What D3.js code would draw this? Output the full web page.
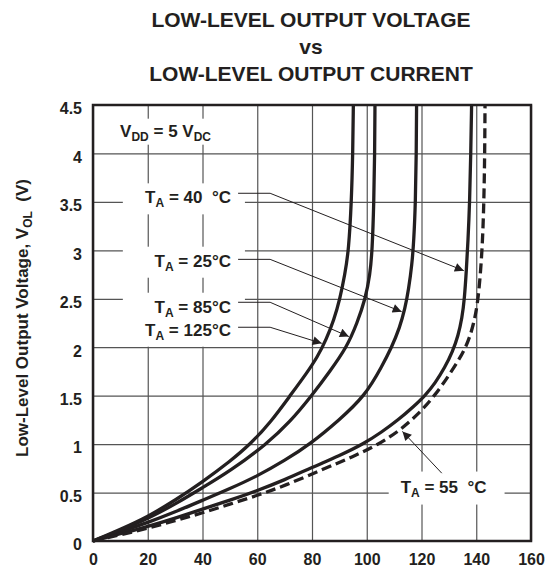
<!DOCTYPE html>
<html>
<head>
<meta charset="utf-8">
<script src="https://cdn.jsdelivr.net/npm/d3@7"></script>
<style>
  body { margin: 0; background: #fff; }
  text { font-family: "Liberation Sans", Arial, Helvetica, sans-serif; font-weight: bold; fill: #231f20; }
</style>
</head>
<body>
<div id="chart"></div>
<script>
// axis ticks
const xTicks = [0, 20, 40, 60, 80, 100, 120, 140, 160];
const yTicks = [0, 0.5, 1, 1.5, 2, 2.5, 3, 3.5, 4, 4.5];
const titleLines = ["LOW-LEVEL OUTPUT VOLTAGE", "vs", "LOW-LEVEL OUTPUT CURRENT"];

// [I_OL (mA), V_OL (V)]
const curve125 = [[0,0],[10,0.12],[20,0.25],[30,0.42],[40,0.61],[50,0.82],[57.5,1.0],[65,1.23],[72,1.5],[78,1.73],[82,1.9],[85.2,2.08],[88,2.28],[90.2,2.5],[92,2.75],[93.4,3.0],[94.4,3.5],[94.9,4.0],[95.1,4.5]];
const curve85 = [[0,0],[10,0.11],[20,0.23],[30,0.38],[40,0.55],[50,0.72],[63.4,1.0],[72,1.23],[79.9,1.5],[86.5,1.75],[92.7,2.0],[96.5,2.25],[99.5,2.5],[101.2,2.75],[102,3.0],[102.6,3.5],[102.9,4.0],[103,4.5]];
const curve25 = [[0,0],[10,0.095],[20,0.19],[30,0.3],[40,0.42],[50,0.54],[60,0.67],[70,0.83],[79.3,1.0],[90,1.25],[99.4,1.5],[105.5,1.8],[109.1,2.0],[112,2.2],[114,2.4],[115.3,2.6],[116.5,2.85],[117.2,3.1],[117.8,3.5],[118.1,4.0],[118.2,4.5]];
const curve40 = [[0,0],[10,0.075],[20,0.15],[30,0.235],[40,0.33],[50,0.42],[60,0.52],[70,0.63],[80,0.76],[90,0.88],[98.7,1.0],[105.5,1.125],[111.5,1.25],[116.8,1.38],[121.3,1.5],[125,1.63],[128.5,1.79],[131.3,1.95],[133.4,2.12],[134.8,2.3],[135.7,2.5],[136.4,2.8],[137,3.1],[137.6,3.5],[138,4.0],[138.3,4.5]];
const curve55 = [[0,0],[10,0.065],[20,0.13],[30,0.21],[40,0.29],[50,0.38],[60,0.47],[70,0.57],[84,0.74],[95,0.87],[104.5,1.0],[112,1.14],[118.5,1.3],[124.9,1.5],[131,1.75],[136.5,2.0],[139.2,2.25],[140.8,2.5],[142.2,3.0],[142.8,3.5],[143.1,4.0],[143.2,4.5]];

const seriesNames = ["40", "25", "85", "125", "55"];
const seriesData = [curve40, curve25, curve85, curve125, curve55];

const width = 555, height = 572;
const svg = d3.select("#chart").append("svg")
    .attr("width", width)
    .attr("height", height);

const x = d3.scaleLinear().domain([0, 160]).range([93, 531]);
const y = d3.scaleLinear().domain([0, 4.5]).range([541, 105]);

svg.append("defs").append("marker")
    .attr("id", "arrow")
    .attr("viewBox", "0 0 10 10")
    .attr("refX", 10).attr("refY", 5)
    .attr("markerWidth", 14).attr("markerHeight", 9)
    .attr("markerUnits", "userSpaceOnUse")
    .attr("orient", "auto")
    .append("path").attr("d", "M0,0L10,5L0,10Z").attr("fill", "#231f20");

// title
svg.append("g").selectAll("text")
    .data(titleLines)
    .enter().append("text")
    .attr("x", 311)
    .attr("y", (d, i) => 27 + i * 27)
    .attr("text-anchor", "middle")
    .attr("font-size", 21)
    .text(d => d);

// grid
const grid = svg.append("g");
grid.append("g")
    .attr("transform", `translate(0,${y(0)})`)
    .call(d3.axisBottom(x).tickValues(xTicks).tickSize(y(4.5) - y(0)).tickFormat(""));
grid.append("g")
    .attr("transform", `translate(${x(0)},0)`)
    .call(d3.axisLeft(y).tickValues(yTicks).tickSize(x(0) - x(160)).tickFormat(""));
grid.selectAll(".domain").remove();
grid.selectAll("line").attr("stroke", "#555").attr("stroke-width", 1.2);

// tick labels
const xAxis = svg.append("g")
    .attr("transform", `translate(0,${y(0)})`)
    .call(d3.axisBottom(x).tickValues(xTicks).tickSize(0).tickPadding(12.5).tickFormat(d3.format("d")));
const yAxis = svg.append("g")
    .attr("transform", `translate(${x(0) - 11},0)`)
    .call(d3.axisLeft(y).tickValues(yTicks).tickSize(0).tickPadding(0).tickFormat(d => String(d)));
[xAxis, yAxis].forEach(a => {
    a.select(".domain").remove();
    a.selectAll("text").attr("font-size", 16).attr("fill", "#231f20")
        .style("font-family", "'Liberation Sans', Arial, sans-serif").style("font-weight", "bold");
});
yAxis.selectAll("text").attr("dy", "0.55em");

// y label
const yl = svg.append("text")
    .attr("transform", "translate(28,318) rotate(-90)")
    .attr("text-anchor", "middle")
    .attr("font-size", 17);
yl.append("tspan").text("Low-Level Output Voltage, V");
yl.append("tspan").attr("font-size", 12).attr("dy", 4).text("OL");
yl.append("tspan").attr("dy", -4).text("\u00a0\u00a0(V)");

// label layer (white boxes behind texts)
const boxes = svg.append("g");
const lines = svg.append("g");
const leaders = svg.append("g");
const labels = svg.append("g");

const line = d3.line()
    .x(d => x(d[0]))
    .y(d => y(d[1]))
    .curve(d3.curveBasis);

lines.selectAll("path")
    .data(seriesData)
    .enter().append("path")
    .attr("d", line)
    .attr("fill", "none")
    .attr("stroke", "#231f20")
    .attr("stroke-width", 3.3)
    .attr("stroke-dasharray", (d, i) => seriesNames[i] === "55" ? "10,5" : null);

function currentAt(pts, v) {
    for (let i = 1; i < pts.length; i++) {
        if (pts[i][1] >= v) {
            const [i0, v0] = pts[i - 1], [i1, v1] = pts[i];
            return i0 + (i1 - i0) * (v - v0) / (v1 - v0);
        }
    }
    return pts[pts.length - 1][0];
}

function addLabel(parts, px, py, anchor) {
    const t = labels.append("text")
        .attr("x", px).attr("y", py)
        .attr("text-anchor", anchor)
        .attr("font-size", 17);
    parts.forEach(p => {
        t.append("tspan")
            .attr("font-size", p.sub ? 12 : 17)
            .attr("dy", p.sub ? 4 : (p.after ? -4 : 0))
            .text(p.s);
    });
    return t;
}

// V_DD note
const vdd = addLabel([{ s: "V" }, { s: "DD", sub: true }, { s: " = 5 V", after: true }, { s: "DC", sub: true }], x(9.9), y(4.173), "start");
let bb = vdd.node().getBBox();
boxes.append("rect").attr("x", bb.x - 3).attr("y", bb.y - 3).attr("width", bb.width + 6).attr("height", bb.height + 4).attr("fill", "#fff");

// left temperature labels: [name, text, baselineV, leaderV, targetV]
const leftLabels = [
    ["40", " = 40\u00a0\u00a0\u00b0C", 3.485, 3.589, 2.79],
    ["25", " = 25\u00b0C", 2.831, 2.907, 2.367],
    ["85", " = 85\u00b0C", 2.356, 2.464, 2.11],
    ["125", " = 125\u00b0C", 2.119, 2.206, 2.04]
];

leftLabels.forEach(([name, rest, vb, vl, vt]) => {
    const t = addLabel([{ s: "T" }, { s: "A", sub: true }, { s: rest, after: true }], x(50.4), y(vb), "end");
    const b = t.node().getBBox();
    boxes.append("rect")
        .attr("x", x(10.9)).attr("y", b.y - 5)
        .attr("width", x(55.5) - x(10.9)).attr("height", b.height + 9)
        .attr("fill", "#fff");
    const pts = seriesData[seriesNames.indexOf(name)];
    const tipX = x(currentAt(pts, vt)) - 2.5, tipY = y(vt);
    leaders.append("polyline")
        .attr("points", [[x(53), y(vl)], [x(64.7), y(vl)], [tipX, tipY]].join(" "))
        .attr("fill", "none").attr("stroke", "#231f20").attr("stroke-width", 1)
        .attr("marker-end", "url(#arrow)");
});

// 55 label at lower right
const t55 = addLabel([{ s: "T" }, { s: "A", sub: true }, { s: " = 55\u00a0\u00a0\u00b0C", after: true }], x(112.4), y(0.5), "start");
bb = t55.node().getBBox();
boxes.append("rect").attr("x", bb.x - 12).attr("y", bb.y - 6).attr("width", bb.width + 30).attr("height", bb.height + 11).attr("fill", "#fff");
{
    const vt = 1.15;
    const sx = x(127.4), sy = y(0.70);
    const cx = x(currentAt(curve55, vt)), cy = y(vt);
    const len = Math.hypot(cx - sx, cy - sy);
    leaders.append("line")
        .attr("x1", sx).attr("y1", sy)
        .attr("x2", cx - (cx - sx) / len * 2.5).attr("y2", cy - (cy - sy) / len * 2.5)
        .attr("stroke", "#231f20").attr("stroke-width", 1)
        .attr("marker-end", "url(#arrow)");
}

// frame
svg.append("rect")
    .attr("x", x(0)).attr("y", y(4.5))
    .attr("width", x(160) - x(0)).attr("height", y(0) - y(4.5))
    .attr("fill", "none").attr("stroke", "#231f20").attr("stroke-width", 2.5);
</script>
</body>
</html>
